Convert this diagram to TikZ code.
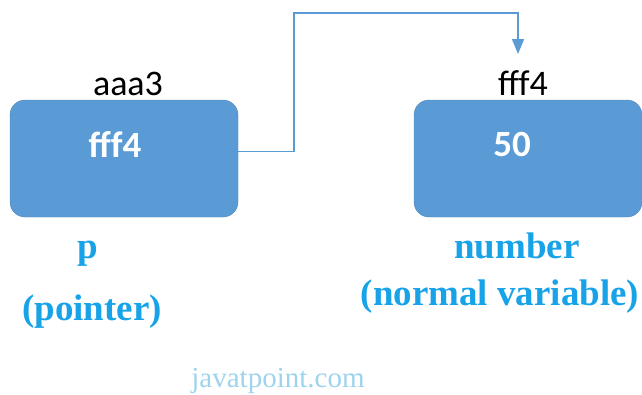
\documentclass[tikz,border=0pt]{standalone}
\usepackage{fontspec}
\setmainfont{Liberation Serif}
\newfontfamily\calibri{Carlito}
\usetikzlibrary{arrows.meta, positioning, calc}
\definecolor{boxblue}{HTML}{5B9BD5}
\definecolor{boxedge}{HTML}{4F86BC}
\definecolor{tagblue}{HTML}{18A3E8}
\definecolor{markblue}{HTML}{9ED3EE}

\begin{document}
\begin{tikzpicture}[
        x=1pt, y=-1pt,
        cell/.style={rectangle, draw=boxedge, fill=boxblue, rounded corners=15pt, minimum width=228pt, minimum height=117pt, inner sep=0pt},
        val/.style={font=\calibri\bfseries\fontsize{37}{42}\selectfont, text=white, anchor=base, inner sep=0pt},
        addr/.style={font=\calibri\fontsize{36}{42}\selectfont, text=black, anchor=base, inner sep=0pt},
        tag/.style={font=\bfseries\fontsize{37}{42}\selectfont, text=tagblue, anchor=base, inner sep=0pt},
        link/.style={-{Triangle[width=12pt, length=15pt]}, draw=boxblue, line width=1.5pt}
    ]
        \useasboundingbox (0,0) rectangle (642,394);
        \node[cell] (pbox) at (124, 158.5) {};
        \node[cell] (numbox) at (528, 158.5) {};
        \node[val] (pval) at (115, 157) {fff4};
        \node[val] (numval) at (512, 156) {50};
        \node[addr] (paddr) at (128, 95) {aaa3};
        \node[addr] (numaddr) at (523, 95) {fff4};
        \node[tag] (pname) at (88, 258) {p};
        \node[tag] (pkind) at (92, 320) {(pointer)};
        \node[tag] (numname) at (517, 258) {number};
        \node[tag] (numkind) at (500, 305) {(normal variable)};
        \node[font=\fontsize{29}{32}\selectfont, text=markblue, anchor=base, inner sep=0pt] (site) at (278, 387) {javatpoint.com};
        \coordinate (tip) at (518, 54);
        \draw[link] ([yshift=7pt]pbox.east) -- ++(56, 0) |- ([yshift=41pt]tip) -- (tip);
    \end{tikzpicture}
\end{document}
